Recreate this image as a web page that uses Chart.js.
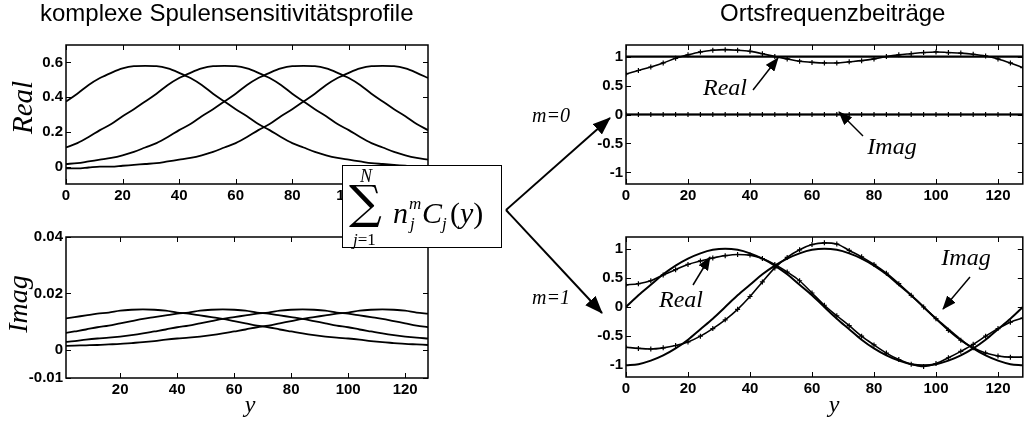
<!DOCTYPE html>
<html>
<head>
<meta charset="utf-8">
<script src="https://cdn.jsdelivr.net/npm/chart.js@4.4.1/dist/chart.umd.min.js"></script>
<style>
body { margin:0; background:#fff; width:1028px; height:422px; position:relative; overflow:hidden; }
canvas { position:absolute; }
#ann { position:absolute; left:0; top:0; }
#formel { position:absolute; left:342px; top:165px; width:158px; height:81px; border:1.5px solid #000; background:#fff; font-family:"Liberation Serif", serif; color:#000; }
#formel span { position:absolute; white-space:nowrap; line-height:1; }
.it { font-style:italic; }
</style>
</head>
<body>
<canvas id="c1"></canvas>
<canvas id="c2"></canvas>
<canvas id="c3"></canvas>
<canvas id="c4"></canvas>

<svg id="ann" width="1028" height="422">
  <defs>
    <marker id="bigHead" markerUnits="userSpaceOnUse" markerWidth="18" markerHeight="14" refX="17" refY="7" orient="auto">
      <path d="M0,0 L18,7 L0,14 z" fill="#000"/>
    </marker>
    <marker id="smallHead" markerUnits="userSpaceOnUse" markerWidth="14" markerHeight="11" refX="13" refY="5.5" orient="auto">
      <path d="M0,0 L14,5.5 L0,11 z" fill="#000"/>
    </marker>
  </defs>
  <g font-family="Liberation Sans, Arial, sans-serif" font-size="24" fill="#000">
    <text x="40" y="21">komplexe Spulensensitivitätsprofile</text>
    <text x="720" y="21">Ortsfrequenzbeiträge</text>
  </g>
  <g font-family="Liberation Serif, serif" font-style="italic" fill="#000">
    <text transform="translate(32,107.5) rotate(-90)" text-anchor="middle" font-size="29">Real</text>
    <text transform="translate(27,304) rotate(-90)" text-anchor="middle" font-size="28">Imag</text>
    <text x="250" y="412" text-anchor="middle" font-size="24">y</text>
    <text x="834" y="412" text-anchor="middle" font-size="24">y</text>
    <text x="551" y="122" text-anchor="middle" font-size="20">m=0</text>
    <text x="551" y="304" text-anchor="middle" font-size="20">m=1</text>
    <text x="725" y="95" text-anchor="middle" font-size="24">Real</text>
    <text x="892" y="154" text-anchor="middle" font-size="24">Imag</text>
    <text x="681" y="307" text-anchor="middle" font-size="24">Real</text>
    <text x="966" y="265" text-anchor="middle" font-size="24">Imag</text>
  </g>
  <g stroke="#000" fill="none">
    <line x1="506" y1="210" x2="610" y2="118" stroke-width="2" marker-end="url(#bigHead)"/>
    <line x1="506" y1="210" x2="602" y2="313" stroke-width="2" marker-end="url(#bigHead)"/>
    <line x1="753" y1="90" x2="778" y2="58" stroke-width="1.5" marker-end="url(#smallHead)"/>
    <line x1="863" y1="136" x2="839" y2="112" stroke-width="1.5" marker-end="url(#smallHead)"/>
    <line x1="693" y1="285" x2="710" y2="257" stroke-width="1.5" marker-end="url(#smallHead)"/>
    <line x1="970" y1="277" x2="943" y2="309" stroke-width="1.5" marker-end="url(#smallHead)"/>
  </g>
</svg>

<div id="formel">
  <span class="it" style="left:17px;top:1px;font-size:18px;">N</span>
  <span style="left:6px;top:13px;font-size:46px;font-family:'DejaVu Serif',serif;">&#8721;</span>
  <span class="it" style="left:10px;top:65px;font-size:17px;">j<span style="position:static;font-style:normal">=1</span></span>
  <span style="left:50px;top:32px;font-size:30px;"><i>n</i><span style="position:relative;display:inline-block;width:14px;height:30px;vertical-align:top;font-size:17px;font-style:italic;"><span style="left:1px;top:-3px;">m</span><span style="left:2px;top:17px;">j</span></span><i>C</i><span style="position:relative;display:inline-block;width:8px;height:30px;vertical-align:top;font-size:17px;font-style:italic;"><span style="left:0px;top:17px;">j</span></span>(<i>y</i>)</span>
</div>

<script>
// x positions (samples along y)
var xs = [0,4,8,12,16,20,24,28,32,36,40,44,48,52,56,60,64,68,72,76,80,84,88,92,96,100,104,108,112,116,120,124,128];

// coil sensitivities, real part
var realC1 = [0.375,0.42,0.47,0.51,0.54,0.565,0.578,0.58,0.578,0.565,0.54,0.51,0.47,0.42,0.375,0.33,0.29,0.245,0.21,0.17,0.135,0.11,0.085,0.065,0.05,0.04,0.03,0.02,0.015,0.01,0.005,0,0];
var realC2 = [0.11,0.135,0.17,0.21,0.245,0.29,0.33,0.375,0.42,0.47,0.51,0.54,0.565,0.578,0.58,0.578,0.565,0.54,0.51,0.47,0.42,0.375,0.33,0.29,0.245,0.21,0.17,0.135,0.11,0.085,0.065,0.05,0.04];
var realC3 = [0.015,0.02,0.03,0.04,0.05,0.065,0.085,0.11,0.135,0.17,0.21,0.245,0.29,0.33,0.375,0.42,0.47,0.51,0.54,0.565,0.578,0.58,0.578,0.565,0.54,0.51,0.47,0.42,0.375,0.33,0.29,0.245,0.21];
var realC4 = [-0.01,-0.01,-0.005,0,0,0.005,0.01,0.015,0.02,0.03,0.04,0.05,0.065,0.085,0.11,0.135,0.17,0.21,0.245,0.29,0.33,0.375,0.42,0.47,0.51,0.54,0.565,0.578,0.58,0.578,0.565,0.54,0.51];

// coil sensitivities, imaginary part
var imagC1 = [0.011,0.0116,0.0122,0.0128,0.0132,0.0139,0.0142,0.0143,0.0142,0.0139,0.0132,0.0128,0.0122,0.0116,0.011,0.0102,0.0094,0.0086,0.008,0.0072,0.0065,0.0058,0.0052,0.0047,0.0043,0.004,0.0036,0.0031,0.0027,0.0024,0.0021,0.0019,0.0017];
var imagC2 = [0.0058,0.0065,0.0072,0.008,0.0086,0.0094,0.0102,0.011,0.0116,0.0122,0.0128,0.0132,0.0139,0.0142,0.0143,0.0142,0.0139,0.0132,0.0128,0.0122,0.0116,0.011,0.0102,0.0094,0.0086,0.008,0.0072,0.0065,0.0058,0.0052,0.0047,0.0043,0.004];
var imagC3 = [0.0027,0.0031,0.0036,0.004,0.0043,0.0047,0.0052,0.0058,0.0065,0.0072,0.008,0.0086,0.0094,0.0102,0.011,0.0116,0.0122,0.0128,0.0132,0.0139,0.0142,0.0143,0.0142,0.0139,0.0132,0.0128,0.0122,0.0116,0.011,0.0102,0.0094,0.0086,0.008];
var imagC4 = [0.0014,0.0015,0.0016,0.0017,0.0019,0.0021,0.0024,0.0027,0.0031,0.0036,0.004,0.0043,0.0047,0.0052,0.0058,0.0065,0.0072,0.008,0.0086,0.0094,0.0102,0.011,0.0116,0.0122,0.0128,0.0132,0.0139,0.0142,0.0143,0.0142,0.0139,0.0132,0.0128];

// m=0 target and approximation
var m0RealIdeal = [1,1,1,1,1,1,1,1,1,1,1,1,1,1,1,1,1,1,1,1,1,1,1,1,1,1,1,1,1,1,1,1,1];
var m0ImagIdeal = [0,0,0,0,0,0,0,0,0,0,0,0,0,0,0,0,0,0,0,0,0,0,0,0,0,0,0,0,0,0,0,0,0];
var m0RealFit = [0.70,0.76,0.82,0.89,0.97,1.03,1.08,1.11,1.12,1.11,1.09,1.05,1.0,0.96,0.92,0.90,0.89,0.89,0.91,0.93,0.96,1.0,1.03,1.05,1.07,1.08,1.07,1.06,1.04,1.01,0.96,0.89,0.81];
var m0ImagFit = [0,0,0,0,0,0,0,0,0,0,0,0,0,0,0,0,0,0,0,0,0,0,0,0,0,0,0,0,0,0,0,0,0];

// m=1 target and approximation
var m1RealIdeal = [0,0.2,0.38,0.56,0.71,0.83,0.92,0.98,1,0.98,0.92,0.83,0.71,0.56,0.38,0.2,0,-0.2,-0.38,-0.56,-0.71,-0.83,-0.92,-0.98,-1,-0.98,-0.92,-0.83,-0.71,-0.56,-0.38,-0.2,0];
var m1ImagIdeal = [-1,-0.98,-0.92,-0.83,-0.71,-0.56,-0.38,-0.2,0,0.2,0.38,0.56,0.71,0.83,0.92,0.98,1,0.98,0.92,0.83,0.71,0.56,0.38,0.2,0,-0.2,-0.38,-0.56,-0.71,-0.83,-0.92,-0.98,-1];
var m1RealFit = [0.38,0.40,0.45,0.55,0.64,0.73,0.79,0.84,0.88,0.90,0.89,0.83,0.73,0.60,0.45,0.24,0.03,-0.15,-0.32,-0.50,-0.65,-0.79,-0.90,-0.98,-1.02,-0.97,-0.87,-0.76,-0.64,-0.50,-0.37,-0.26,-0.19];
var m1ImagFit = [-0.69,-0.71,-0.72,-0.70,-0.66,-0.60,-0.50,-0.37,-0.22,-0.04,0.18,0.43,0.67,0.85,0.98,1.07,1.10,1.08,0.97,0.86,0.73,0.58,0.40,0.20,0.0,-0.20,-0.40,-0.57,-0.70,-0.79,-0.84,-0.86,-0.86];

// tick labels
var xTicksFull = [0,20,40,60,80,100,120];
var xTicksNoZero = [20,40,60,80,100,120];
var yTicksReal = [0,0.2,0.4,0.6];
var yTicksImag = [-0.01,0,0.02,0.04];
var yTicksRight = [-1,-0.5,0,0.5,1];

function pts(vals) {
    return xs.map(function(x, i) { return { x: x, y: vals[i] }; });
}

function plain(vals, w) {
    return { data: pts(vals), borderColor: '#000', borderWidth: w || 1.8, pointRadius: 0, cubicInterpolationMode: 'monotone' };
}

function marked(vals) {
    return { data: pts(vals), borderColor: '#000', borderWidth: 1.6, pointStyle: 'cross', pointRadius: 2.5,
             pointBorderWidth: 1.2, pointBorderColor: '#000', cubicInterpolationMode: 'monotone' };
}

// MATLAB-like box with inward ticks
var framePlugin = {
    id: 'frame',
    afterDatasetsDraw: function(chart) {
        var a = chart.chartArea, ctx = chart.ctx;
        var sx = chart.scales.x, sy = chart.scales.y;
        ctx.save();
        ctx.strokeStyle = '#000';
        ctx.lineWidth = 1;
        ctx.beginPath();
        sx.ticks.forEach(function(t) {
            var px = Math.round(sx.getPixelForValue(t.value)) + 0.5;
            ctx.moveTo(px, a.bottom); ctx.lineTo(px, a.bottom - 5);
            ctx.moveTo(px, a.top); ctx.lineTo(px, a.top + 5);
        });
        sy.ticks.forEach(function(t) {
            var py = Math.round(sy.getPixelForValue(t.value)) + 0.5;
            ctx.moveTo(a.left, py); ctx.lineTo(a.left + 5, py);
            ctx.moveTo(a.right, py); ctx.lineTo(a.right - 5, py);
        });
        ctx.stroke();
        ctx.lineWidth = 1.5;
        ctx.strokeRect(a.left, a.top, a.right - a.left, a.bottom - a.top);
        ctx.restore();
    }
};

var tickFont = { family: 'Liberation Sans, Arial, sans-serif', size: 15, weight: 'bold' };

function makeChart(id, box, xr, xTicks, yr, yTicks, datasets) {
    var yW = 60, xH = 24, padTop = 10, padRight = 3;
    var cv = document.getElementById(id);
    var left = box[0] - yW, top = box[1] - padTop;
    var w = Math.min(box[2] + padRight, 1028) - left;
    var h = box[3] + xH - top;
    cv.style.left = left + 'px';
    cv.style.top = top + 'px';
    cv.width = w; cv.height = h;
    return new Chart(cv.getContext('2d'), {
        type: 'line',
        data: { datasets: datasets },
        options: {
            responsive: false,
            animation: false,
            devicePixelRatio: 1,
            layout: { padding: { top: padTop, right: w - (box[2] - left), left: 0, bottom: 0 } },
            plugins: { legend: { display: false }, tooltip: { enabled: false } },
            scales: {
                x: {
                    type: 'linear', min: xr[0], max: xr[1],
                    afterBuildTicks: function(s) { s.ticks = xTicks.map(function(v) { return { value: v }; }); },
                    afterFit: function(s) { s.height = xH; },
                    grid: { display: false, drawTicks: false },
                    border: { display: false },
                    ticks: { font: tickFont, color: '#000', padding: 3, maxRotation: 0, autoSkip: false,
                             callback: function(v) { return String(v); } }
                },
                y: {
                    type: 'linear', min: yr[0], max: yr[1],
                    afterBuildTicks: function(s) { s.ticks = yTicks.map(function(v) { return { value: v }; }); },
                    afterFit: function(s) { s.width = yW; },
                    grid: { display: false, drawTicks: false },
                    border: { display: false },
                    ticks: { font: tickFont, color: '#000', padding: 3, autoSkip: false,
                             callback: function(v) { return String(v); } }
                }
            }
        },
        plugins: [framePlugin]
    });
}

makeChart('c1', [66, 43, 428, 184], [0, 128], xTicksFull, [-0.1, 0.7], yTicksReal,
    [plain(realC1), plain(realC2), plain(realC3), plain(realC4)]);

makeChart('c2', [66, 235, 428, 378], [1, 128], xTicksNoZero, [-0.01, 0.04], yTicksImag,
    [plain(imagC1), plain(imagC2), plain(imagC3), plain(imagC4)]);

makeChart('c3', [626, 43, 1025, 184], [0, 128], xTicksFull, [-1.2, 1.2], yTicksRight,
    [plain(m0RealIdeal, 2.2), plain(m0ImagIdeal, 2), marked(m0RealFit), marked(m0ImagFit)]);

makeChart('c4', [626, 235, 1025, 377], [0, 128], xTicksFull, [-1.2, 1.2], yTicksRight,
    [plain(m1RealIdeal, 2), plain(m1ImagIdeal, 2), marked(m1RealFit), marked(m1ImagFit)]);
</script>
</body>
</html>
